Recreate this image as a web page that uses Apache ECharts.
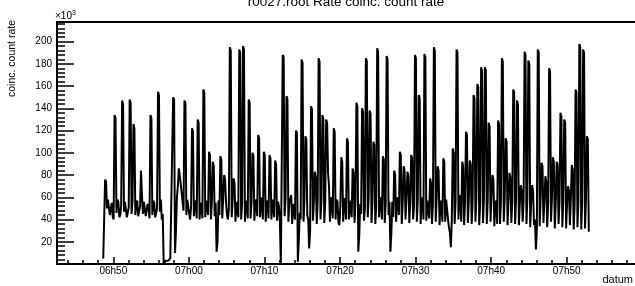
<!DOCTYPE html>
<html><head><meta charset="utf-8">
<script src="https://cdn.jsdelivr.net/npm/echarts@6/dist/echarts.min.js"></script>
<style>html,body{margin:0;padding:0;background:#fff}#c{width:635px;height:286px}</style>
</head><body><div id="c"></div>
<script>
// time in minutes after midnight
const startMinute = 6 * 60 + 48 + 40 / 60;   // 06:48:40, first sample
const stepMinutes = 0.125;                     // one sample every 7.5 s
// coinc. count rate, in units of 10^3
const rate = [
  5,5,76,74,50,58,57,44,45,55,43,40,134,131,46,58,56,42,44,53,
  147,144,47,56,55,42,43,51,148,145,45,57,126,122,44,55,57,43,42,52,
  84,62,45,56,56,43,42,54,50,41,134,131,44,57,55,42,42,50,155,152,
  47,58,40,45,0,0,3,2,2,3,4,5,6,6,150,148,10,30,60,70,
  86,80,72,64,56,48,147,145,44,58,58,45,40,52,122,119,43,57,55,41,
  130,127,40,55,52,41,157,154,42,57,56,44,101,98,40,56,92,88,43,55,
  11,20,57,44,97,94,41,58,80,76,56,44,40,50,195,192,42,58,77,72,
  38,56,55,42,193,190,40,54,196,193,38,57,53,41,148,145,41,56,100,97,
  39,58,56,43,116,113,42,60,54,40,101,98,38,57,55,41,98,95,40,58,
  57,42,93,90,39,56,52,38,0,0,188,186,43,58,151,148,38,55,56,62,
  36,54,55,40,120,118,2,20,46,40,184,181,38,58,115,112,44,40,14,30,
  142,139,39,57,83,78,36,55,185,182,40,58,134,131,37,56,130,127,82,70,
  38,60,58,41,122,119,40,58,56,37,35,52,96,92,38,59,57,40,113,110,
  40,57,58,42,86,82,37,55,145,142,11,25,54,45,140,137,39,50,185,183,
  42,60,138,135,37,56,110,107,36,52,194,191,42,60,58,40,97,94,37,55,
  187,184,44,56,11,28,56,42,84,80,38,58,60,44,101,98,36,55,88,84,
  40,59,83,79,37,56,98,95,40,52,188,185,38,58,152,149,36,60,55,40,
  189,186,39,57,58,41,77,73,36,54,195,192,38,60,88,84,35,55,57,38,
  95,92,38,58,59,40,33,28,15,40,104,100,36,57,193,190,40,62,59,38,
  92,88,35,56,119,116,37,58,93,90,36,55,152,149,38,60,162,159,35,54,
  177,174,37,58,177,174,36,57,127,124,38,62,80,76,34,55,57,36,129,126,
  36,56,185,182,38,60,113,110,35,57,82,78,37,56,157,154,36,58,147,144,
  35,55,71,66,38,57,191,188,36,59,183,180,33,56,71,66,35,40,13,30,
  193,190,34,58,91,88,37,56,79,74,33,55,176,173,38,60,96,92,32,54,
  92,89,36,57,136,133,33,58,130,127,32,55,70,66,35,59,89,85,31,54,
  157,154,33,56,198,195,31,57,193,190,32,58,115,112,29
];
const xMin = 6 * 60 + 42.55, xMax = 7 * 60 + 59.03;
const xTickMinutes = [410, 420, 430, 440, 450, 460, 470];
const xMinorTickMinutes = [404,406,408,410,412,414,416,418,420,422,424,426,428,430,432,434,436,438,440,442,444,446,448,450,452,454,456,458,460,462,464,466,468,470,472,474,476,478];
const yMax = 217.7;
const yTickValues = [20, 40, 60, 80, 100, 120, 140, 160, 180, 200];
const yMinorTickValues = [4,8,12,16,24,28,32,36,44,48,52,56,64,68,72,76,84,88,92,96,104,108,112,116,124,128,132,136,144,148,152,156,164,168,172,176,184,188,192,196,204,208,212,216];

const FONT = '"Liberation Sans", Arial, Helvetica, sans-serif';
const pad = n => (n < 10 ? '0' : '') + n;
const fmtTime = v => { const m = Math.round(v); return pad(Math.floor(m / 60)) + 'h' + pad(m % 60); };

const seriesData = rate.map((v, i) => [startMinute + i * stepMinutes, v]);

const chart = echarts.init(document.getElementById('c'), null, { renderer: 'canvas' });
const blk = '#000';
chart.setOption({
  animation: false,
  backgroundColor: '#fff',
  grid: { left: 57, right: 0, top: 22, bottom: 22, containLabel: false },
  xAxis: [
    {
      type: 'value', min: xMin, max: xMax, position: 'bottom',
      axisLine: { show: true, onZero: false, lineStyle: { color: blk, width: 2 } },
      axisTick: { show: true, inside: true, length: 7, customValues: xTickMinutes, lineStyle: { color: blk, width: 1.5 } },
      axisLabel: { show: true, customValues: xTickMinutes, formatter: fmtTime, fontSize: 10, color: blk, margin: 2, fontFamily: FONT },
      splitLine: { show: false }
    },
    {
      type: 'value', min: xMin, max: xMax, position: 'bottom',
      axisLine: { show: false },
      axisTick: { show: true, inside: true, length: 4, customValues: xMinorTickMinutes, lineStyle: { color: blk, width: 1.5 } },
      axisLabel: { show: false },
      splitLine: { show: false }
    },
    {
      type: 'value', min: xMin, max: xMax, position: 'top',
      axisLine: { show: true, onZero: false, lineStyle: { color: blk, width: 2 } },
      axisTick: { show: false }, axisLabel: { show: false }, splitLine: { show: false }
    }
  ],
  yAxis: [
    {
      type: 'value', min: 0, max: yMax, position: 'left',
      axisLine: { show: true, onZero: false, lineStyle: { color: blk, width: 2 } },
      axisTick: { show: true, inside: true, length: 17, customValues: yTickValues, lineStyle: { color: blk, width: 1.5 } },
      axisLabel: { show: true, customValues: yTickValues, fontSize: 10, color: blk, margin: 5, fontFamily: FONT },
      splitLine: { show: false }
    },
    {
      type: 'value', min: 0, max: yMax, position: 'left',
      axisLine: { show: false },
      axisTick: { show: true, inside: true, length: 8, customValues: yMinorTickValues, lineStyle: { color: blk, width: 1.5 } },
      axisLabel: { show: false },
      splitLine: { show: false }
    }
  ],
  series: [{
    type: 'line', xAxisIndex: 0, yAxisIndex: 0,
    data: seriesData, showSymbol: false, symbol: 'none',
    lineStyle: { color: blk, width: 2 }, clip: true
  }],
  graphic: [
    { type: 'text', x: 346, y: 2.6, style: { text: 'r0027.root Rate coinc. count rate', font: '13.5px ' + FONT, fill: blk, align: 'center', verticalAlign: 'middle' } },
    { type: 'text', x: 55, y: 16, style: { text: '{a|×10}{b|3}', fill: blk, align: 'left', verticalAlign: 'middle',
        rich: { a: { fontSize: 10, fontFamily: FONT, fill: blk, color: blk }, b: { fontSize: 7, fontFamily: FONT, fill: blk, color: blk, verticalAlign: 'top', padding: [0, 0, 6, 0] } } } },
    { type: 'text', x: 12.5, y: 20, rotation: Math.PI / 2, style: { text: 'coinc. count rate', font: '10.5px ' + FONT, fill: blk, align: 'right', verticalAlign: 'middle' } },
    { type: 'text', x: 633, y: 280, style: { text: 'datum', font: '11px ' + FONT, fill: blk, align: 'right', verticalAlign: 'middle' } }
  ]
});
</script></body></html>
